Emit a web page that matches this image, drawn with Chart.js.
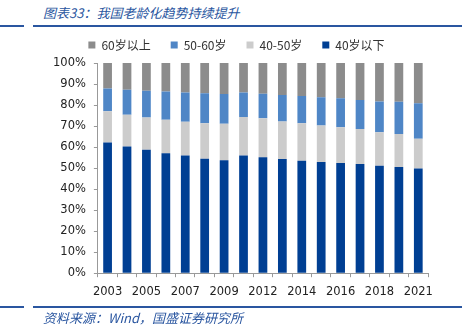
<!DOCTYPE html>
<html>
<head>
<meta charset="utf-8">
<script src="https://cdn.jsdelivr.net/npm/chart.js@4"></script>
<style>
  body { margin: 0; background: #fff; }
  #wrap { position: relative; width: 462px; height: 332px; overflow: hidden; font-family: "Noto Sans CJK SC", sans-serif; }
  .cap { position: absolute; left: 43px; font-style: italic; color: #2a56a0; font-size: 13px; white-space: nowrap; }
  .rule { position: absolute; height: 2px; background: #2a56a0; }
  #chartBox { position: absolute; left: 0; top: 17px; width: 462px; height: 290px; }
</style>
</head>
<body>
<div id="wrap">
  <div class="cap" style="top:3px;">图表33：我国老龄化趋势持续提升</div>
  <div id="chartBox"><canvas id="myChart"></canvas></div>
  <div class="rule" style="top:25px;left:0;width:24px;"></div>
  <div class="rule" style="top:25px;left:33px;width:429px;"></div>
  <div class="rule" style="top:306px;left:0;width:24px;"></div>
  <div class="rule" style="top:306px;left:33px;width:429px;"></div>
  <div class="cap" style="top:308px;">资料来源：Wind，国盛证券研究所</div>
</div>
<script>
// years (2 years are missing in the source data)
var years = ['2003','2004','2005','2006','2007','2008','2009','2011','2012','2013','2014','2015','2016','2017','2018','2019','2021'];

// shares in %
var under40 = [62.2, 60.3, 58.7, 57.1, 56.0, 54.4, 53.7, 56.0, 55.2, 54.3, 53.5, 52.9, 52.4, 51.9, 51.1, 50.5, 49.8];
var age40to50 = [14.8, 15.1, 15.4, 15.9, 16.1, 16.9, 17.4, 18.3, 18.5, 17.9, 17.8, 17.4, 17.0, 16.7, 16.0, 15.7, 14.2];
var age50to60 = [10.9, 11.9, 12.7, 13.5, 13.9, 14.3, 14.1, 11.7, 11.7, 12.6, 13.0, 13.4, 13.8, 13.8, 14.6, 15.4, 16.8];
var over60 = [12.1, 12.7, 13.2, 13.5, 14.0, 14.4, 14.8, 14.0, 14.6, 15.2, 15.7, 16.3, 16.8, 17.6, 18.3, 18.4, 19.2];

var tickFont = { family: 'DejaVu Sans', size: 11.5 };

var data = {
  labels: years,
  datasets: [
    { label: '40岁以下', data: under40, backgroundColor: '#003f93' },
    { label: '40-50岁', data: age40to50, backgroundColor: '#cccccc' },
    { label: '50-60岁', data: age50to60, backgroundColor: '#4f86c6' },
    { label: '60岁以上', data: over60, backgroundColor: '#8c8c8c' }
  ]
};

// tweak the gap between legend and plot
const legendGap = {
  id: 'legendGap',
  beforeInit(chart) {
    const fit = chart.legend.fit;
    chart.legend.fit = function() {
      fit.bind(chart.legend)();
      this.height += 2;
    };
  }
};

const config = {
  type: 'bar',
  data: data,
  options: {
    responsive: true,
    maintainAspectRatio: false,
    animation: false,
    layout: { padding: { left: 45, right: 34, top: 2, bottom: 0 } },
    datasets: { bar: { barPercentage: 0.45, categoryPercentage: 1 } },
    plugins: {
      tooltip: { enabled: false },
      legend: {
        reverse: true,
        labels: {
          boxWidth: 7, boxHeight: 7, padding: 20,
          usePointStyle: true, pointStyle: 'rect',
          color: '#333',
          font: { family: 'Noto Sans CJK SC', size: 12 }
        }
      }
    },
    scales: {
      x: {
        stacked: true,
        grid: { display: true, drawOnChartArea: false, drawTicks: true, tickLength: 4, offset: true, color: '#999' },
        border: { display: true, color: '#999' },
        ticks: {
          autoSkip: false, maxRotation: 0, padding: 8, color: '#222', font: tickFont,
          callback: function(v, i) { return i % 2 === 0 ? years[i] : ''; }
        }
      },
      y: {
        stacked: true,
        min: 0, max: 100,
        grid: { display: true, drawOnChartArea: false, drawTicks: true, tickLength: 4, color: '#999' },
        border: { display: true, color: '#999' },
        ticks: {
          stepSize: 10, padding: 8, color: '#222', font: tickFont,
          callback: function(v) { return v + '%'; }
        }
      }
    }
  },
  plugins: [legendGap]
};

const myChart = new Chart(document.getElementById('myChart'), config);
</script>
</body>
</html>
